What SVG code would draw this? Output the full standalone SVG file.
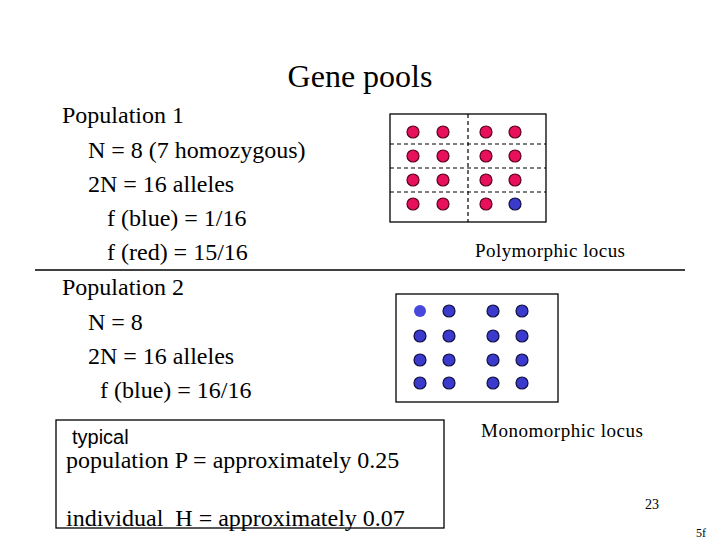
<svg xmlns="http://www.w3.org/2000/svg" width="720" height="540" viewBox="0 0 720 540">
<defs>
<style>
.t{font-family:"Liberation Serif","Times New Roman",serif;fill:#000}
.s{font-family:"Liberation Sans",Arial,sans-serif;fill:#000}
.box{fill:none;stroke:#000;stroke-width:1.3}
.dash{stroke:#000;stroke-width:1.2;stroke-dasharray:4,3}
.r{fill:#e8105a;stroke:#5a0020;stroke-width:1.2}
.b{fill:#3a3acc;stroke:#101040;stroke-width:1.2}
</style>
</defs>
<rect width="720" height="540" fill="#fff"/>
<text class="t" x="360" y="87" font-size="32" text-anchor="middle">Gene pools</text>
<g id="text-pop1" class="t" font-size="24">
<text x="62" y="123">Population 1</text>
<text x="88" y="158">N = 8 (7 homozygous)</text>
<text x="88" y="192">2N = 16 alleles</text>
<text x="107" y="226">f (blue) = 1/16</text>
<text x="107" y="260">f (red) = 15/16</text>
</g>
<g id="text-pop2" class="t" font-size="24">
<text x="62" y="295">Population 2</text>
<text x="88" y="330">N = 8</text>
<text x="88" y="364">2N = 16 alleles</text>
<text x="100" y="398">f (blue) = 16/16</text>
</g>
<line x1="35" y1="270" x2="685" y2="270" stroke="#000" stroke-width="1.5"/>
<g id="poly-box">
<rect class="box" x="390" y="114" width="156" height="108"/>
<line class="dash" x1="390" y1="144" x2="546" y2="144"/>
<line class="dash" x1="390" y1="168" x2="546" y2="168"/>
<line class="dash" x1="390" y1="192" x2="546" y2="192"/>
<line class="dash" x1="468" y1="114" x2="468" y2="222"/>
<g>
<circle class="r" cx="413" cy="132" r="6"/><circle class="r" cx="443" cy="132" r="6"/><circle class="r" cx="486" cy="132" r="6"/><circle class="r" cx="515" cy="132" r="6"/>
<circle class="r" cx="413" cy="156" r="6"/><circle class="r" cx="443" cy="156" r="6"/><circle class="r" cx="486" cy="156" r="6"/><circle class="r" cx="515" cy="156" r="6"/>
<circle class="r" cx="413" cy="180" r="6"/><circle class="r" cx="443" cy="180" r="6"/><circle class="r" cx="486" cy="180" r="6"/><circle class="r" cx="515" cy="180" r="6"/>
<circle class="r" cx="413" cy="204" r="6"/><circle class="r" cx="443" cy="204" r="6"/><circle class="r" cx="486" cy="204" r="6"/><circle class="b" cx="515" cy="204" r="6"/>
</g>
<text class="t" x="550" y="257" font-size="19" text-anchor="middle" textLength="150">Polymorphic locus</text>
</g>
<g id="mono-box">
<rect class="box" x="396" y="294" width="162" height="108"/>
<circle cx="420" cy="311" r="6" fill="#4848dd"/><circle class="b" cx="449" cy="311" r="6"/><circle class="b" cx="493" cy="311" r="6"/><circle class="b" cx="522" cy="311" r="6"/>
<circle class="b" cx="420" cy="336" r="6"/><circle class="b" cx="449" cy="336" r="6"/><circle class="b" cx="493" cy="336" r="6"/><circle class="b" cx="522" cy="336" r="6"/>
<circle class="b" cx="420" cy="360" r="6"/><circle class="b" cx="449" cy="360" r="6"/><circle class="b" cx="493" cy="360" r="6"/><circle class="b" cx="522" cy="360" r="6"/>
<circle class="b" cx="420" cy="383" r="6"/><circle class="b" cx="449" cy="383" r="6"/><circle class="b" cx="493" cy="383" r="6"/><circle class="b" cx="522" cy="383" r="6"/>
<text class="t" x="562" y="437" font-size="19" text-anchor="middle" textLength="162">Monomorphic locus</text>
</g>
<g id="summary-box">
<rect class="box" x="56" y="420" width="388" height="108"/>
<text class="s" x="72" y="444" font-size="20">typical</text>
<text class="t" x="66" y="468" font-size="24">population P = approximately 0.25</text>
<text class="t" x="66" y="526" font-size="24" xml:space="preserve">individual  H = approximately 0.07</text>
</g>
<text class="t" x="652" y="509" font-size="14" text-anchor="middle">23</text>
<text class="t" x="701" y="537" font-size="12" text-anchor="middle">5f</text>
</svg>
